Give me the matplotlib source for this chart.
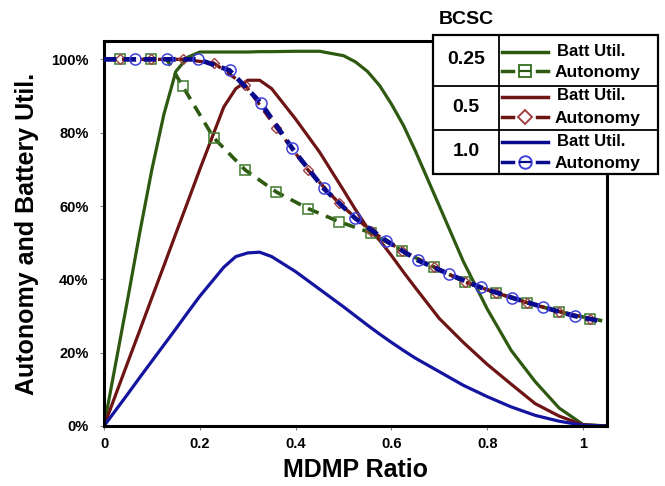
import matplotlib
matplotlib.use("agg")
import matplotlib.pyplot as plt
from matplotlib.lines import Line2D
from matplotlib.patches import Rectangle
from matplotlib.ticker import FuncFormatter

plt.rcParams['font.family'] = ['Liberation Sans', 'DejaVu Sans']
plt.rcParams['font.weight'] = 'bold'

# battery utilisation vs MDMP ratio, one curve per BCSC
ratio = [0, 0.025, 0.05, 0.075, 0.1, 0.125, 0.15, 0.175, 0.2, 0.25, 0.275, 0.3,
         0.325, 0.35, 0.4, 0.45, 0.5, 0.525, 0.55, 0.575, 0.6, 0.625, 0.65, 0.7,
         0.75, 0.8, 0.85, 0.9, 0.95, 1.0, 1.05]
batt_025 = [0, 0.175, 0.35, 0.53, 0.70, 0.85, 0.967, 1.006, 1.02, 1.02, 1.02, 1.02,
            1.021, 1.021, 1.022, 1.022, 1.01, 0.993, 0.967, 0.929, 0.878, 0.82, 0.75, 0.60,
            0.449, 0.319, 0.206, 0.121, 0.049, 0.004, 0.0]
batt_05 = [0, 0.0875, 0.175, 0.262, 0.35, 0.437, 0.525, 0.612, 0.70, 0.87, 0.92, 0.943,
           0.943, 0.92, 0.837, 0.747, 0.643, 0.59, 0.54, 0.507, 0.465, 0.42, 0.377, 0.293,
           0.228, 0.168, 0.114, 0.061, 0.027, 0.003, 0.0]
batt_10 = [0, 0.044, 0.088, 0.133, 0.177, 0.221, 0.265, 0.31, 0.354, 0.433, 0.462, 0.472,
           0.474, 0.462, 0.421, 0.373, 0.325, 0.30, 0.275, 0.251, 0.228, 0.206, 0.185, 0.148,
           0.111, 0.08, 0.052, 0.029, 0.013, 0.002, 0.0]

# autonomy curves (markers shown at the sampled ratios)
auto_x_025 = [0, 0.033, 0.098, 0.131, 0.164, 0.229, 0.295, 0.36, 0.426, 0.491, 0.557,
              0.622, 0.688, 0.753, 0.819, 0.884, 0.95, 1.015, 1.04]
auto_025 = [1.0, 1.0, 1.0, 1.0, 0.927, 0.786, 0.698, 0.638, 0.593, 0.557, 0.527,
            0.478, 0.434, 0.393, 0.363, 0.336, 0.312, 0.293, 0.287]
auto_x_05 = [0, 0.033, 0.098, 0.164, 0.229, 0.295, 0.36, 0.426, 0.491, 0.557,
             0.622, 0.688, 0.753, 0.819, 0.884, 0.95, 1.015, 1.04]
auto_05 = [1.0, 1.0, 1.0, 1.0, 0.99, 0.929, 0.813, 0.698, 0.607, 0.532,
           0.478, 0.434, 0.393, 0.363, 0.336, 0.312, 0.293, 0.287]
auto_x_10 = [0, 0.0655, 0.131, 0.1965, 0.262, 0.3275, 0.393, 0.4585, 0.524, 0.5895,
             0.655, 0.7205, 0.786, 0.8515, 0.917, 0.9825, 1.045]
auto_10 = [1.0, 1.0, 1.0, 1.0, 0.97, 0.881, 0.757, 0.648, 0.567, 0.505,
           0.452, 0.414, 0.378, 0.35, 0.324, 0.30, 0.284]

bcsc = ["0.25", "0.5", "1.0"]

green, green_mk = '#2d5a10', '#3f7a2c'
red, red_mk = '#6e1414', '#a04040'
blue, blue_d, blue_mk = '#1414a0', '#0a0a8c', '#4040dc'

fig = plt.figure(figsize=(6.65, 4.86), dpi=100)
ax = fig.add_axes([0.1564, 0.1235, 0.7564, 0.7921])

ax.plot(ratio, batt_025, color=green, lw=2.3, zorder=2)
ax.plot(ratio, batt_05, color=red, lw=2.3, zorder=2)
ax.plot(ratio, batt_10, color=blue, lw=2.3, zorder=2)

idx_025 = [i for i in range(1, len(auto_x_025) - 1) if i != 3]
ax.plot(auto_x_025, auto_025, color=green, lw=2.6, dashes=(3.2, 2.2), marker='s',
        ms=7, mfc='none', mec=green_mk, mew=1.1, markevery=idx_025, zorder=3)
ax.plot(auto_x_05, auto_05, color=red, lw=2.4, dashes=(3.2, 2.2), marker='D',
        ms=5.5, mfc='none', mec=red_mk, mew=1.0,
        markevery=list(range(1, len(auto_x_05) - 1)), zorder=3)
ax.plot(auto_x_10, auto_10, color=blue_d, lw=3.4, dashes=(2.6, 1.6), marker='o',
        ms=8, mfc='none', mec=blue_mk, mew=1.1,
        markevery=list(range(1, len(auto_x_10) - 1)), zorder=4)

ax.set_xlim(0, 1.05)
ax.set_ylim(0, 1.05)
ax.set_xticks([0, 0.2, 0.4, 0.6, 0.8, 1.0])
ax.set_xticklabels(['0', '0.2', '0.4', '0.6', '0.8', '1'])
ax.set_yticks([0, 0.2, 0.4, 0.6, 0.8, 1.0])
ax.yaxis.set_major_formatter(FuncFormatter(lambda v, p: '%d%%' % round(v * 100)))
ax.tick_params(direction='out', length=3, color='gray', labelsize=10.5)
ax.tick_params(axis='y', pad=8)
ax.tick_params(axis='x', pad=5)
for s in ax.spines.values():
    s.set_linewidth(2.2)
    s.set_color('black')
ax.set_xlabel('MDMP Ratio', fontsize=18, fontweight='bold', labelpad=5)
ax.set_ylabel('Autonomy and Battery Util.', fontsize=18, fontweight='bold', labelpad=9)


# legend drawn as a small table in figure pixel coordinates
def fx(px):
    return px / 665.0


def fy(py):
    return 1 - py / 486.0


tf = fig.transFigure
fig.add_artist(Rectangle((fx(433), fy(174)), fx(658) - fx(433), fy(35) - fy(174),
                         transform=tf, facecolor='white', edgecolor='black', lw=1.6, zorder=5))
fig.add_artist(Line2D([fx(499), fx(499)], [fy(35), fy(174)], transform=tf, color='black', lw=1.3, zorder=6))
for yy in [86, 130]:
    fig.add_artist(Line2D([fx(433), fx(658)], [fy(yy), fy(yy)], transform=tf, color='black', lw=1.3, zorder=6))
fig.text(fx(466), fy(19), 'BCSC', ha='center', va='center', fontsize=14, fontweight='bold')

rows = [(60, 52, 71, green, green_mk, 's', 7),
        (108, 97, 117, red, red_mk, 'D', 6.5),
        (152, 142, 162, blue_d, blue_mk, 'o', 8)]
for lab, (yc, y1, y2, col, mcol, mk, ms) in zip(bcsc, rows):
    fig.text(fx(466), fy(yc), lab, ha='center', va='center', fontsize=14, fontweight='bold', zorder=7)
    fig.add_artist(Line2D([fx(502), fx(548)], [fy(y1)] * 2, transform=tf, color=col, lw=2.5, zorder=7))
    fig.add_artist(Line2D([fx(502), fx(513)], [fy(y2)] * 2, transform=tf, color=col, lw=2.5, zorder=7))
    fig.add_artist(Line2D([fx(537), fx(548)], [fy(y2)] * 2, transform=tf, color=col, lw=2.5, zorder=7))
    fig.add_artist(Line2D([fx(525)], [fy(y2)], transform=tf, marker=mk, ms=ms + 1, mfc='none',
                          mec=mcol, mew=1.4, zorder=7))
    if mk != 'D':
        fig.add_artist(Line2D([fx(520), fx(530)], [fy(y2)] * 2, transform=tf, color=col, lw=1.6, zorder=7))
    fig.text(fx(557), fy(y1 - 1), 'Batt Util.', ha='left', va='center', fontsize=12, fontweight='bold', zorder=7)
    fig.text(fx(555), fy(y2 + 1), 'Autonomy', ha='left', va='center', fontsize=12.5, fontweight='bold', zorder=7)

plt.savefig('out.png', dpi=100)
